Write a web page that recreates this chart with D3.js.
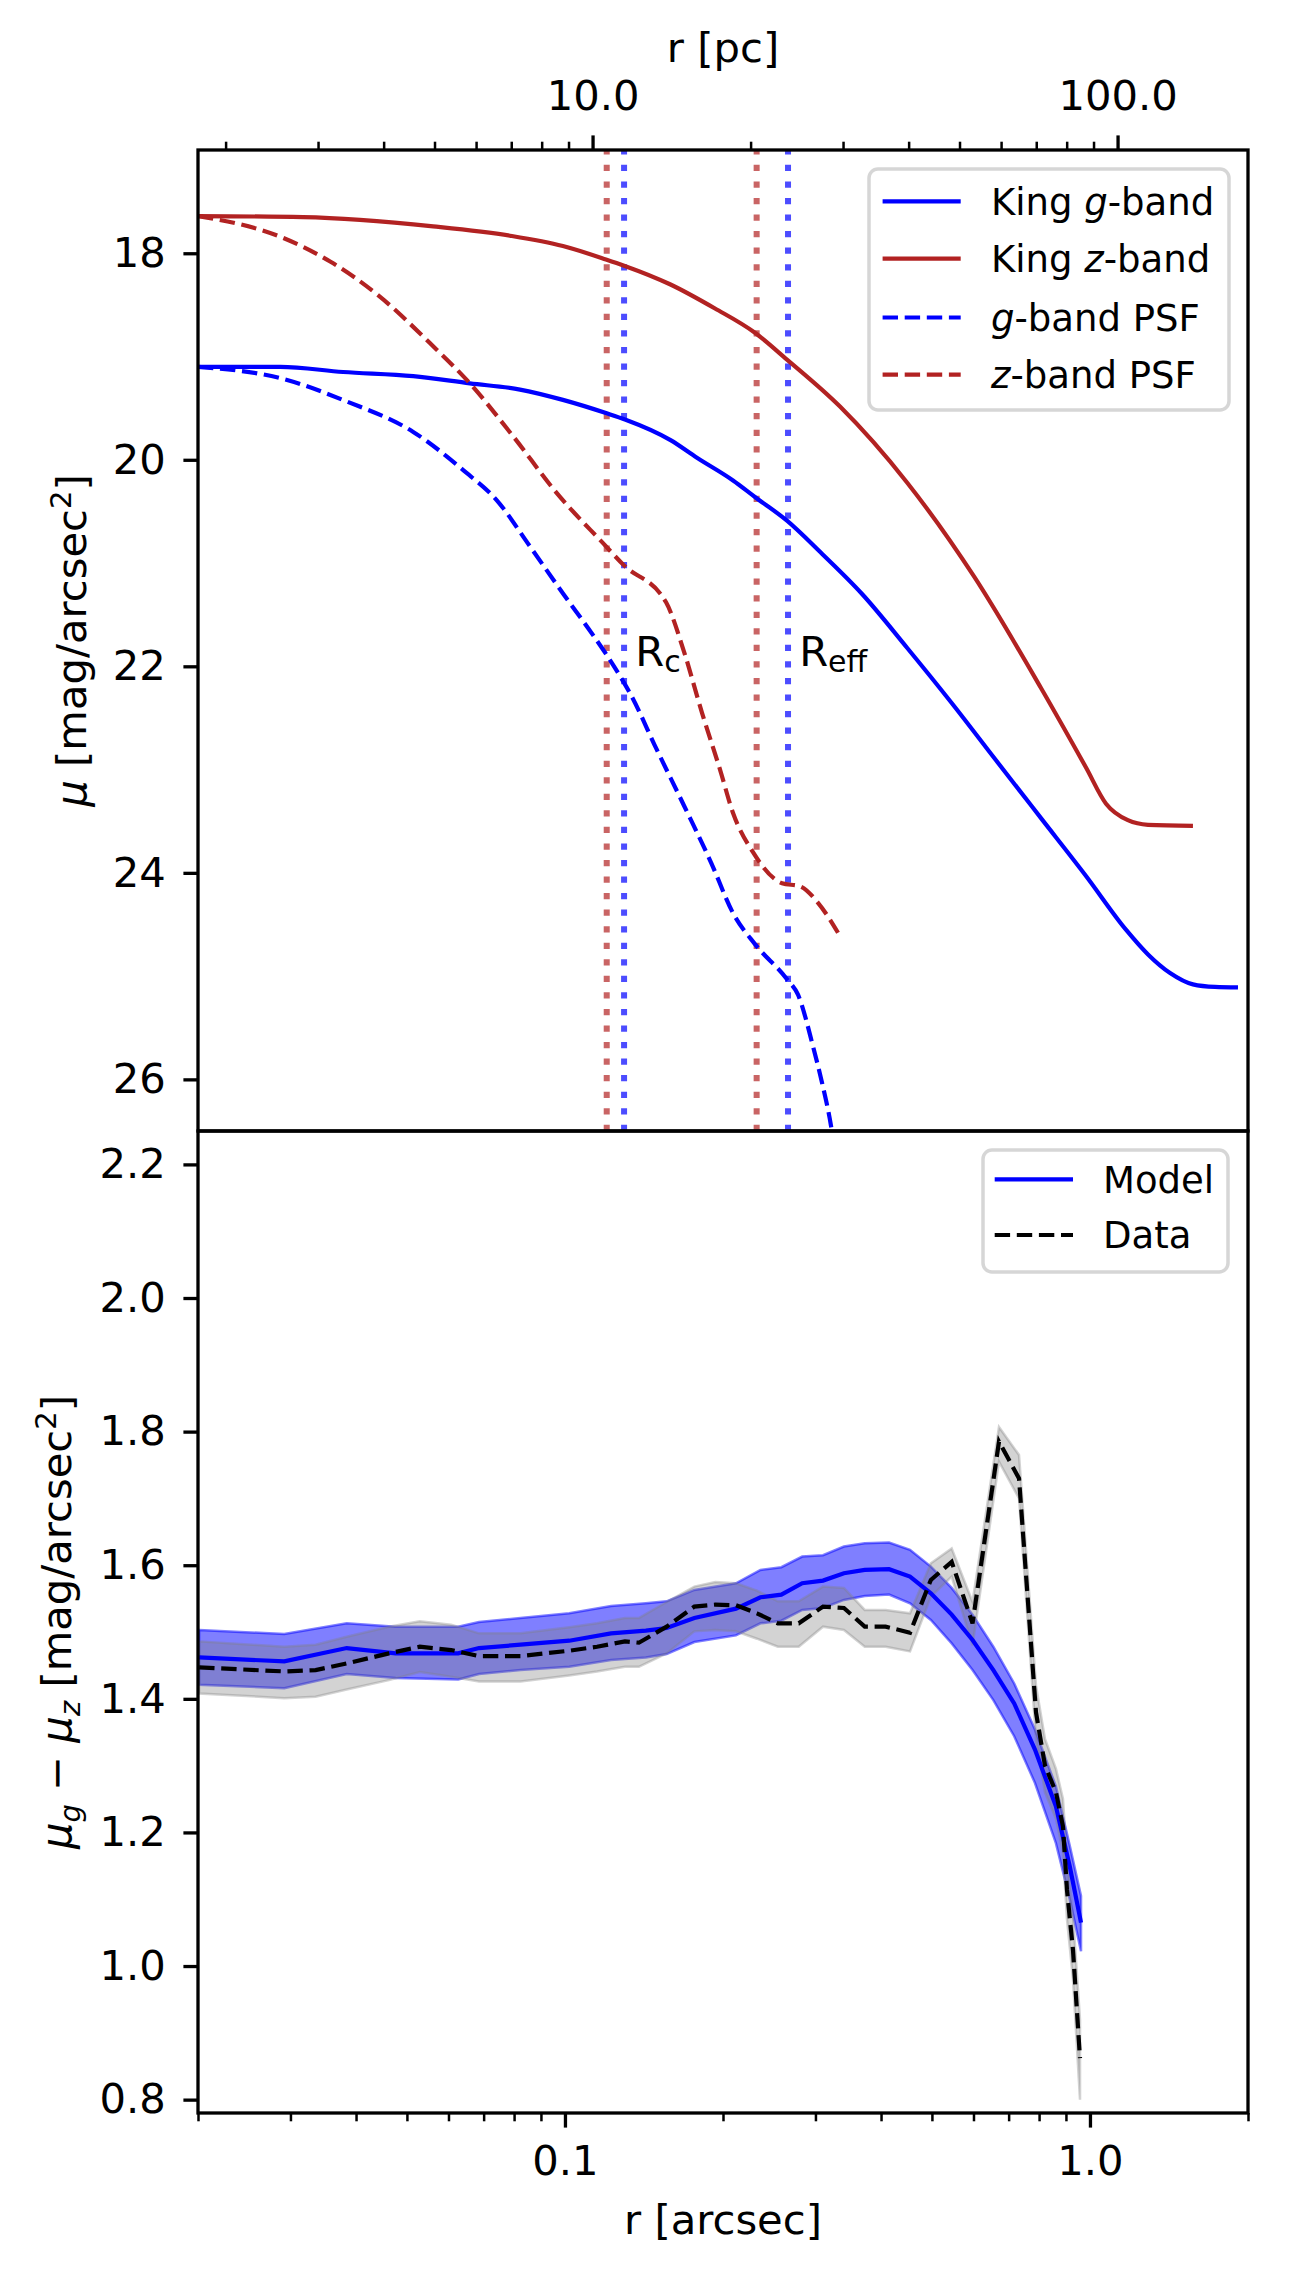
<!DOCTYPE html>
<html>
<head>
<meta charset="utf-8">
<script src="https://cdnjs.cloudflare.com/ajax/libs/d3/7.8.5/d3.min.js"></script>
<style>
    body { margin: 0; background: #fff; }
    svg text { font-family: "DejaVu Sans", sans-serif; }
</style>
</head>
<body>
<div id="chart"></div>
<script>
//  Define width and height
var chart_width     =   1290;
var chart_height    =   2277;

var plot_left       =   198;
var plot_right      =   1248;
var top_y           =   150;
var mid_y           =   1131;
var bottom_y        =   2113;

var fs_tick         =   41.7;
var fs_legend       =   37;

var blue            =   "#0000ff";
var red             =   "#b22222";


// Top panel data: surface brightness profiles (r in arcsec, mu in mag/arcsec^2)
var kingG_r     = [0.0200, 0.0287, 0.0378, 0.0514, 0.0659, 0.0821, 0.0991, 0.1201, 0.1301, 0.1589, 0.1784, 0.2090, 0.2301, 0.2648, 0.3087, 0.3681, 0.4483, 0.5462, 0.6623, 0.8067, 0.9828, 1.171, 1.290, 1.421, 1.571, 1.730, 1.914];
var kingG_mu    = [19.10, 19.10, 19.15, 19.19, 19.26, 19.32, 19.42, 19.55, 19.61, 19.81, 19.98, 20.20, 20.36, 20.59, 20.91, 21.30, 21.82, 22.36, 22.91, 23.47, 24.03, 24.55, 24.79, 24.97, 25.08, 25.105, 25.11];

var kingZ_r     = [0.0200, 0.0317, 0.0561, 0.0786, 0.0991, 0.1197, 0.1296, 0.1585, 0.1931, 0.2301, 0.2648, 0.3341, 0.4483, 0.6014, 0.8067, 0.9828, 1.073, 1.181, 1.290, 1.571];
var kingZ_mu    = [17.64, 17.65, 17.74, 17.83, 17.93, 18.06, 18.12, 18.30, 18.535, 18.77, 19.03, 19.485, 20.22, 21.13, 22.21, 22.98, 23.33, 23.49, 23.535, 23.545];

var psfG_r      = [0.0200, 0.0287, 0.0384, 0.0514, 0.0640, 0.0741, 0.0858, 0.0993, 0.1132, 0.1197, 0.1296, 0.1330, 0.1497, 0.1686, 0.1898, 0.2090, 0.2301, 0.2648, 0.2779, 0.2968, 0.3087, 0.3212, 0.3269];
var psfG_mu     = [19.10, 19.21, 19.435, 19.73, 20.10, 20.39, 20.84, 21.30, 21.70, 21.88, 22.16, 22.26, 22.81, 23.35, 23.90, 24.39, 24.69, 25.03, 25.18, 25.68, 26.03, 26.45, 26.70];

var psfZ_r      = [0.0200, 0.0287, 0.0357, 0.0444, 0.0553, 0.0659, 0.0796, 0.0964, 0.1183, 0.1294, 0.1558, 0.1686, 0.1824, 0.1974, 0.2090, 0.2281, 0.2591, 0.2804, 0.3034, 0.3312];
var psfZ_mu     = [17.64, 17.84, 18.08, 18.42, 18.87, 19.26, 19.77, 20.32, 20.81, 21.02, 21.38, 21.86, 22.45, 23.00, 23.42, 23.80, 24.10, 24.13, 24.29, 24.58];

// Core and effective radii (arcsec)
var marker_r    = [0.1201, 0.1296, 0.2318, 0.2660];
var marker_band = ["z", "g", "z", "g"];
var marker_text = [ null, "c", null, "eff" ];


// Bottom panel data: colour profile g - z
var model_r     = [0.0201, 0.0292, 0.0384, 0.0476, 0.0626, 0.0686, 0.0823, 0.1019, 0.1224, 0.1426, 0.1562, 0.1764, 0.2117, 0.2357, 0.2583, 0.2831, 0.3101, 0.3399, 0.3724, 0.4143, 0.4542, 0.4977, 0.5453, 0.5975, 0.6546, 0.7173, 0.7857, 0.8612, 0.9153, 0.9615];
var model_col   = [1.462, 1.456, 1.476, 1.468, 1.468, 1.476, 1.481, 1.487, 1.498, 1.502, 1.506, 1.521, 1.535, 1.552, 1.556, 1.573, 1.577, 1.588, 1.593, 1.594, 1.583, 1.558, 1.526, 1.488, 1.443, 1.393, 1.324, 1.239, 1.149, 1.065];
var model_hi    = [1.503, 1.497, 1.513, 1.508, 1.508, 1.515, 1.521, 1.528, 1.539, 1.543, 1.546, 1.563, 1.573, 1.593, 1.597, 1.613, 1.615, 1.628, 1.633, 1.634, 1.623, 1.598, 1.566, 1.526, 1.478, 1.423, 1.354, 1.269, 1.180, 1.105];
var model_lo    = [1.421, 1.416, 1.437, 1.431, 1.429, 1.437, 1.443, 1.448, 1.458, 1.462, 1.467, 1.485, 1.495, 1.513, 1.517, 1.533, 1.536, 1.548, 1.554, 1.556, 1.543, 1.518, 1.483, 1.443, 1.398, 1.344, 1.274, 1.184, 1.100, 1.022];

var data_r      = [0.0201, 0.0292, 0.0335, 0.0384, 0.0462, 0.0529, 0.0607, 0.0686, 0.0823, 0.1019, 0.1151, 0.1301, 0.1383, 0.1562, 0.1764, 0.1934, 0.2117, 0.2321, 0.2544, 0.2788, 0.3101, 0.3399, 0.3724, 0.4081, 0.4542, 0.4977, 0.5453, 0.5975, 0.6710, 0.7326, 0.7892, 0.8210, 0.8615, 0.8884, 0.9041, 0.9283, 0.9573];
var data_col    = [1.447, 1.441, 1.443, 1.453, 1.468, 1.478, 1.473, 1.464, 1.464, 1.472, 1.478, 1.486, 1.484, 1.508, 1.538, 1.541, 1.540, 1.528, 1.513, 1.513, 1.538, 1.536, 1.508, 1.508, 1.499, 1.578, 1.605, 1.513, 1.785, 1.730, 1.380, 1.300, 1.260, 1.209, 1.114, 1.024, 0.862];
var data_hi     = [1.486, 1.478, 1.481, 1.493, 1.508, 1.516, 1.511, 1.498, 1.498, 1.507, 1.513, 1.521, 1.521, 1.545, 1.568, 1.575, 1.573, 1.562, 1.546, 1.546, 1.568, 1.566, 1.533, 1.533, 1.528, 1.603, 1.625, 1.545, 1.807, 1.765, 1.420, 1.340, 1.295, 1.250, 1.160, 1.075, 0.920];
var data_lo     = [1.408, 1.401, 1.403, 1.414, 1.428, 1.440, 1.433, 1.426, 1.426, 1.435, 1.441, 1.448, 1.448, 1.468, 1.501, 1.503, 1.501, 1.490, 1.478, 1.478, 1.508, 1.503, 1.478, 1.478, 1.471, 1.553, 1.583, 1.480, 1.755, 1.700, 1.340, 1.260, 1.220, 1.170, 1.070, 0.980, 0.800];


// Ticks
var arcsec_major    = [0.1, 1.0];
var pc_major        = [10, 100];
var mu_ticks        = [18, 20, 22, 24, 26];
var col_ticks       = [0.8, 1.0, 1.2, 1.4, 1.6, 1.8, 2.0, 2.2];
var pc_per_arcsec   = 88.6;


// Scales
var x       =   d3.scaleLog().domain([ 0.02, 2.0 ]).range([ plot_left, plot_right ]);
var x_pc    =   d3.scaleLog().domain([ 0.02 * pc_per_arcsec, 2.0 * pc_per_arcsec ]).range([ plot_left, plot_right ]);
var y_top   =   d3.scaleLinear().domain([ 17, 26.5 ]).range([ top_y, mid_y ]);
var y_bot   =   d3.scaleLinear().domain([ 0.78, 2.25 ]).range([ bottom_y, mid_y ]);


// Create SVG
var svg     =   d3.select("#chart")
    .append("svg")
    .attr("width", chart_width)
    .attr("height", chart_height);

var defs    =   svg.append("defs");
defs.append("clipPath").attr("id", "clip-top")
    .append("rect")
    .attr("x", plot_left).attr("y", top_y)
    .attr("width", plot_right - plot_left).attr("height", mid_y - top_y);
defs.append("clipPath").attr("id", "clip-bot")
    .append("rect")
    .attr("x", plot_left).attr("y", mid_y)
    .attr("width", plot_right - plot_left).attr("height", bottom_y - mid_y);


function zip(xs, ys) {
    return xs.map(function(d, i){ return [ d, ys[i] ]; });
}

function isMajor(v, majors) {
    return majors.some(function(m){ return Math.abs(v / m - 1) < 1e-6; });
}


// ---------- Top panel ----------
var top_g   =   svg.append("g").attr("clip-path", "url(#clip-top)");

// R_c / R_eff marker lines
top_g.selectAll("line.marker")
    .data(marker_r)
    .enter()
    .append("line")
    .attr("class", "marker")
    .attr("x1", d => x(d)).attr("x2", d => x(d))
    .attr("y1", mid_y).attr("y2", top_y)
    .attr("stroke", (d, i) => marker_band[i] === "g" ? blue : red)
    .attr("stroke-opacity", 0.7)
    .attr("stroke-width", 6)
    .attr("stroke-dasharray", "6.25,10.3");

var line_top    =   d3.line()
    .x(d => x(d[0]))
    .y(d => y_top(d[1]))
    .curve(d3.curveMonotoneX);

var top_series  =   [
    { pts: zip(kingG_r, kingG_mu), color: blue, dash: null },
    { pts: zip(kingZ_r, kingZ_mu), color: red,  dash: null },
    { pts: zip(psfG_r,  psfG_mu),  color: blue, dash: "15.4,6.7" },
    { pts: zip(psfZ_r,  psfZ_mu),  color: red,  dash: "15.4,6.7" }
];

top_g.selectAll("path.profile")
    .data(top_series)
    .enter()
    .append("path")
    .attr("class", "profile")
    .attr("d", d => line_top(d.pts))
    .attr("fill", "none")
    .attr("stroke", d => d.color)
    .attr("stroke-width", 4.2)
    .attr("stroke-dasharray", d => d.dash);

// R labels
marker_r.forEach(function(r, i){
    if( !marker_text[i] ){
        return null;
    }
    var t = svg.append("text")
        .attr("x", x(r * 1.05))
        .attr("y", y_top(22))
        .attr("font-size", fs_tick)
        .text("R");
    t.append("tspan")
        .attr("font-size", 30)
        .attr("dy", 6)
        .text(marker_text[i]);
});


// ---------- Bottom panel ----------
var bot_g   =   svg.append("g").attr("clip-path", "url(#clip-bot)");

var band    =   d3.area()
    .x(d => x(d[0]))
    .y0(d => y_bot(d[1]))
    .y1(d => y_bot(d[2]));

var line_bot    =   d3.line()
    .x(d => x(d[0]))
    .y(d => y_bot(d[1]));

bot_g.append("path")
    .attr("d", band(model_r.map((r, i) => [ r, model_lo[i], model_hi[i] ])))
    .attr("fill", blue).attr("fill-opacity", 0.5)
    .attr("stroke", blue).attr("stroke-opacity", 0.5).attr("stroke-width", 2.5);

bot_g.append("path")
    .attr("d", band(data_r.map((r, i) => [ r, data_lo[i], data_hi[i] ])))
    .attr("fill", "#808080").attr("fill-opacity", 0.35)
    .attr("stroke", "#808080").attr("stroke-opacity", 0.35).attr("stroke-width", 2.5);

bot_g.append("path")
    .attr("d", line_bot(zip(model_r, model_col)))
    .attr("fill", "none")
    .attr("stroke", blue)
    .attr("stroke-width", 4.2);

bot_g.append("path")
    .attr("d", line_bot(zip(data_r, data_col)))
    .attr("fill", "none")
    .attr("stroke", "#000")
    .attr("stroke-width", 4.2)
    .attr("stroke-dasharray", "15.4,6.7");


// ---------- Axes ----------
function styleAxis(g, width) {
    g.select(".domain").remove();
    g.selectAll(".tick line").attr("stroke", "#000").attr("stroke-width", width);
    g.selectAll(".tick text")
        .attr("fill", "#000")
        .attr("font-size", fs_tick)
        .attr("font-family", "DejaVu Sans");
}

// Bottom x-axis (arcsec)
var arcsec_minor = x.ticks().filter(d => !isMajor(d, arcsec_major));
svg.append("g")
    .attr("transform", "translate(0," + bottom_y + ")")
    .call(d3.axisBottom(x).tickValues(arcsec_minor).tickSize(8.3).tickFormat(""))
    .call(g => styleAxis(g, 2.5));
svg.append("g")
    .attr("transform", "translate(0," + bottom_y + ")")
    .call(d3.axisBottom(x).tickValues(arcsec_major).tickSize(14.6).tickPadding(17.5).tickFormat(d3.format(".1f")))
    .call(g => styleAxis(g, 3.3));

// Top x-axis (pc)
var pc_minor = x_pc.ticks().filter(d => !isMajor(d, pc_major));
svg.append("g")
    .attr("transform", "translate(0," + top_y + ")")
    .call(d3.axisTop(x_pc).tickValues(pc_minor).tickSize(8.3).tickFormat(""))
    .call(g => styleAxis(g, 2.5));
svg.append("g")
    .attr("transform", "translate(0," + top_y + ")")
    .call(d3.axisTop(x_pc).tickValues(pc_major).tickSize(14.6).tickPadding(25).tickFormat(d3.format(".1f")))
    .call(g => styleAxis(g, 3.3));

// Left y-axes
svg.append("g")
    .attr("transform", "translate(" + plot_left + ",0)")
    .call(d3.axisLeft(y_top).tickValues(mu_ticks).tickSize(14.6).tickPadding(17.7).tickFormat(d3.format("d")))
    .call(g => styleAxis(g, 3.3));
svg.append("g")
    .attr("transform", "translate(" + plot_left + ",0)")
    .call(d3.axisLeft(y_bot).tickValues(col_ticks).tickSize(14.6).tickPadding(17.7).tickFormat(d3.format(".1f")))
    .call(g => styleAxis(g, 3.3));

// Spines
[ [top_y, mid_y], [mid_y, bottom_y] ].forEach(function(p){
    svg.append("rect")
        .attr("x", plot_left).attr("y", p[0])
        .attr("width", plot_right - plot_left).attr("height", p[1] - p[0])
        .attr("fill", "none")
        .attr("stroke", "#000")
        .attr("stroke-width", 3.3);
});


// ---------- Axis labels ----------
svg.append("text")
    .attr("x", (plot_left + plot_right) / 2)
    .attr("y", 61.5)
    .attr("text-anchor", "middle")
    .attr("font-size", fs_tick)
    .text("r [pc]");

svg.append("text")
    .attr("x", (plot_left + plot_right) / 2)
    .attr("y", 2233.6)
    .attr("text-anchor", "middle")
    .attr("font-size", fs_tick)
    .text("r [arcsec]");

var ylab_top = svg.append("text")
    .attr("transform", "translate(86," + ((top_y + mid_y) / 2) + ") rotate(-90)")
    .attr("text-anchor", "middle")
    .attr("font-size", fs_tick);
ylab_top.append("tspan").attr("font-style", "italic").text("μ");
ylab_top.append("tspan").text(" [mag/arcsec");
ylab_top.append("tspan").attr("font-size", 29).attr("dy", -15).text("2");
ylab_top.append("tspan").attr("dy", 15).text("]");

var ylab_bot = svg.append("text")
    .attr("transform", "translate(71," + ((mid_y + bottom_y) / 2) + ") rotate(-90)")
    .attr("text-anchor", "middle")
    .attr("font-size", fs_tick);
ylab_bot.append("tspan").attr("font-style", "italic").text("μ");
ylab_bot.append("tspan").attr("font-style", "italic").attr("font-size", 29).attr("dy", 9).text("g");
ylab_bot.append("tspan").attr("dy", -9).text(" − ");
ylab_bot.append("tspan").attr("font-style", "italic").text("μ");
ylab_bot.append("tspan").attr("font-style", "italic").attr("font-size", 29).attr("dy", 9).text("z");
ylab_bot.append("tspan").attr("dy", -9).text(" [mag/arcsec");
ylab_bot.append("tspan").attr("font-size", 29).attr("dy", -15).text("2");
ylab_bot.append("tspan").attr("dy", 15).text("]");


// ---------- Legends ----------
function legend(box, rows) {
    var g = svg.append("g");
    g.append("rect")
        .attr("x", box[0]).attr("y", box[1])
        .attr("width", box[2]).attr("height", box[3])
        .attr("rx", 9).attr("ry", 9)
        .attr("fill", "#fff").attr("fill-opacity", 0.8)
        .attr("stroke", "#d6d6d6").attr("stroke-width", 3.5);
    rows.forEach(function(r){
        g.append("line")
            .attr("x1", r.x1).attr("x2", r.x2)
            .attr("y1", r.y).attr("y2", r.y)
            .attr("stroke", r.color)
            .attr("stroke-width", 4.2)
            .attr("stroke-dasharray", r.dash);
        var t = g.append("text")
            .attr("x", r.tx)
            .attr("y", r.y + 13.4)
            .attr("font-size", fs_legend);
        r.parts.forEach(function(p){
            t.append("tspan")
                .attr("font-style", p[1] ? "italic" : "normal")
                .text(p[0]);
        });
    });
}

legend([ 869, 169, 360, 241 ], [
    { x1: 882.6, x2: 960.7, tx: 991, y: 201.4, color: blue, dash: null,       parts: [["King ", 0], ["g", 1], ["-band", 0]] },
    { x1: 882.6, x2: 960.7, tx: 991, y: 258.6, color: red,  dash: null,       parts: [["King ", 0], ["z", 1], ["-band", 0]] },
    { x1: 882.6, x2: 960.7, tx: 991, y: 317.5, color: blue, dash: "15.4,6.7", parts: [["g", 1], ["-band PSF", 0]] },
    { x1: 882.6, x2: 960.7, tx: 991, y: 374.6, color: red,  dash: "15.4,6.7", parts: [["z", 1], ["-band PSF", 0]] }
]);

legend([ 983, 1150, 245, 122 ], [
    { x1: 994.7, x2: 1073, tx: 1103, y: 1179.3, color: blue,   dash: null,       parts: [["Model", 0]] },
    { x1: 994.7, x2: 1073, tx: 1103, y: 1235,   color: "#000", dash: "15.4,6.7", parts: [["Data", 0]] }
]);
</script>
</body>
</html>
